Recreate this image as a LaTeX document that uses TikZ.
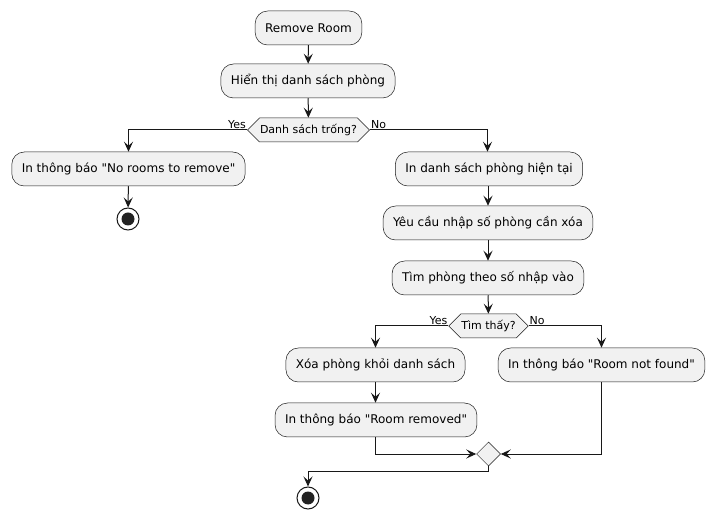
\documentclass[tikz,border=0pt]{standalone}
\usepackage{fontspec}
\setmainfont{DejaVu Sans}[Ligatures=TeXOff]
\usetikzlibrary{arrows.meta,shapes.geometric,shapes.symbols,backgrounds}
\definecolor{boxfill}{HTML}{F1F1F1}
\definecolor{ink}{HTML}{181818}
\definecolor{dotfill}{HTML}{222222}
\tikzset{
  act/.style={draw=ink, fill=boxfill, line width=0.5pt, rounded corners=12.5pt,
    minimum height=34pt, inner xsep=10pt, inner ysep=0pt, font=\fontsize{12}{14}\selectfont, text=black},
  hexa/.style={draw=ink, fill=boxfill, line width=0.5pt, shape=signal, signal to=west and east,
    signal pointer angle=90, minimum height=24pt, inner xsep=0.5pt, inner ysep=0pt,
    font=\fontsize{11}{13}\selectfont, text=black},
  merge/.style={draw=ink, fill=boxfill, line width=0.5pt, diamond, minimum width=24pt, minimum height=24pt, inner sep=0pt},
  stopouter/.style={circle, draw=ink, fill=white, line width=1pt, minimum size=22pt, inner sep=0pt},
  lbl/.style={font=\fontsize{11}{13}\selectfont, inner sep=1pt, text=black},
  flow/.style={draw=ink, line width=1pt, -{Stealth[length=10pt,width=9pt,inset=4pt]}},
  plain/.style={draw=ink, line width=1pt},
}
\begin{document}
\begin{tikzpicture}[x=1pt,y=-1pt]
\useasboundingbox (0,0) rectangle (715,518);
\node[act] (start) at (308.5,28) {Remove Room};
\node[act] (show) at (308,81) {Hiển thị danh sách phòng};
\node[hexa] (d1) at (308.5,130) {Danh sách trống?};
\node[act] (norooms) at (128.5,169) {In thông báo "No rooms to remove"};
\node[stopouter] (stop1) at (128,219) {};
\fill[dotfill] (stop1.center) circle (6.5pt);
\node[act] (list) at (489,169) {In danh sách phòng hiện tại};
\node[act] (ask) at (488,223) {Yêu cầu nhập số phòng cần xóa};
\node[act] (find) at (488,278) {Tìm phòng theo số nhập vào};
\node[hexa] (d2) at (488.5,326) {Tìm thấy?};
\node[act] (del) at (375.5,365) {Xóa phòng khỏi danh sách};
\node[act] (removed) at (376,420) {In thông báo "Room removed"};
\node[act] (notfound) at (601.5,365) {In thông báo "Room not found"};
\node[merge] (m) at (488.5,454) {};
\coordinate (j) at (488.5,471);
\node[stopouter] (stop2) at (308,498) {};
\fill[dotfill] (stop2.center) circle (6.5pt);

\node[lbl, anchor=south east] at (d1.west) {Yes};
\node[lbl, anchor=south west] at (d1.east) {No};
\node[lbl, anchor=south east] at (d2.west) {Yes};
\node[lbl, anchor=south west] at (d2.east) {No};

\draw[flow] (start) -- (show);
\draw[flow] (show) -- (d1);
\draw[flow] (d1.west) -| (norooms.north);
\draw[flow] (norooms) -- (stop1);
\draw[flow] (d1.east) -| ([xshift=-1.5pt]list.north);
\draw[flow] ([xshift=-1pt]list.south) -- (ask.north);
\draw[flow] (ask) -- (find);
\draw[flow] (find) -- (d2);
\draw[flow] (d2.west) -| (del.north);
\draw[flow] (d2.east) -| (notfound.north);
\draw[flow] (del) -- (removed.north -| del.south);
\draw[flow] (removed.south -| del.south) |- (m.west);
\draw[flow] (notfound.south) |- (m.east);
\draw[plain] (m.south) -- (j);
\draw[flow] (j) -| (stop2.north);
\end{tikzpicture}
\end{document}
